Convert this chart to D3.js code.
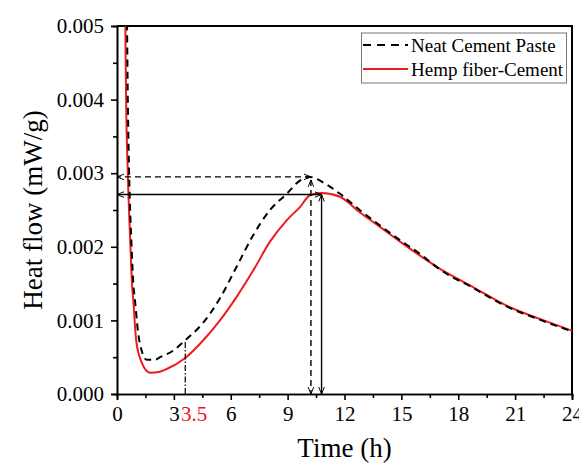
<!DOCTYPE html>
<html>
<head>
<meta charset="utf-8">
<script src="https://cdn.jsdelivr.net/npm/d3@7"></script>
<style>
  body { margin: 0; background: #fff; }
  svg { display: block; }
</style>
</head>
<body>
<div id="main"></div>
<script>
// Neat cement paste (dashed black)
var timeNeat = [0.45, 0.53, 0.57, 0.64, 0.77, 0.86, 0.95, 1.12, 1.3, 1.57, 2.0, 2.27, 2.97, 3.6, 4.55, 5.43, 6.31, 7.19, 8.07, 8.95, 9.65, 10.15, 10.97, 11.76, 12.8, 13.87, 14.93, 16.0, 17.04, 18.8, 20.55, 22.3, 24];
var heatNeat = [0.0065, 0.005, 0.004, 0.003, 0.002, 0.0015, 0.00127, 0.00082, 0.00059, 0.000465, 0.000465, 0.0005, 0.00059, 0.00073, 0.00097, 0.0013, 0.00173, 0.00216, 0.0025, 0.00272, 0.0029, 0.00295, 0.00286, 0.00272, 0.0025, 0.00229, 0.00209, 0.0019, 0.00169, 0.00144, 0.00119, 0.00101, 0.00085];
// Hemp fiber-cement (red)
var timeHemp = [0.38, 0.44, 0.48, 0.57, 0.71, 0.79, 0.86, 1.01, 1.3, 1.74, 2.2, 2.62, 3.6, 4.55, 5.43, 6.31, 7.19, 8.07, 8.95, 9.65, 10.18, 10.8, 11.76, 12.8, 13.87, 14.93, 15.98, 17.04, 18.8, 20.55, 22.3, 24];
var heatHemp = [0.0062, 0.005, 0.004, 0.003, 0.002, 0.0015, 0.00127, 0.00073, 0.00043, 0.00029, 0.0003, 0.00034, 0.00049, 0.00073, 0.001, 0.00132, 0.00168, 0.00207, 0.00236, 0.00254, 0.0027, 0.00273, 0.00268, 0.00247, 0.00227, 0.00207, 0.00188, 0.0017, 0.00145, 0.0012, 0.00102, 0.00086];

var seriesNames = ["Neat Cement Paste", "Hemp fiber-Cement"];
var xTicks = [0, 3, 6, 9, 12, 15, 18, 21, 24];
var yTicks = [0, 0.001, 0.002, 0.003, 0.004, 0.005];
// peaks [time, heat] and end of induction period
var neatPeak = [10.23, 0.00295];
var hempPeak = [10.79, 0.00271];
var inductionTime = 3.6;
var inductionLabel = "3.5";
var inductionHeat = 0.00073;

var width = 579, height = 470;
var margin = {left: 117, right: 7, top: 26, bottom: 76};
var serif = 'Liberation Serif, Times New Roman, serif';

var svg = d3.select('#main')
    .append('svg')
    .attr('width', width)
    .attr('height', height);

var x = d3.scaleLinear().domain([0, 24]).range([margin.left, width - margin.right]);
var y = d3.scaleLinear().domain([0, 0.005]).range([height - margin.bottom, margin.top]);

var defs = svg.append('defs');
defs.append('clipPath').attr('id', 'plot')
    .append('rect')
    .attr('x', x(0)).attr('y', y(0.005))
    .attr('width', x(24) - x(0)).attr('height', y(0) - y(0.005));

// open chevron arrowhead
defs.append('marker')
    .attr('id', 'arrow')
    .attr('viewBox', [0, 0, 10, 10])
    .attr('refX', 10)
    .attr('refY', 5)
    .attr('markerWidth', 7)
    .attr('markerHeight', 7)
    .attr('markerUnits', 'userSpaceOnUse')
    .attr('orient', 'auto-start-reverse')
    .append('path')
    .attr('d', 'M0,1L10,5L0,9')
    .attr('fill', 'none')
    .attr('stroke', 'black')
    .attr('stroke-width', 1.4);

// frame (top and right)
svg.append('path')
    .attr('d', d3.line()([[x(0), y(0.005)], [x(24), y(0.005)], [x(24), y(0)]]))
    .attr('fill', 'none')
    .attr('stroke', 'black')
    .attr('stroke-width', 2);

// axes
var xAxis = svg.append('g')
    .attr('transform', 'translate(0,' + y(0) + ')')
    .call(d3.axisBottom(x).tickValues(xTicks).tickSize(6).tickPadding(6).tickFormat(d3.format('d')));
svg.append('g')
    .attr('transform', 'translate(0,' + y(0) + ')')
    .call(d3.axisBottom(x).tickValues(d3.range(1.5, 24, 3)).tickSize(4).tickFormat(''));
var yAxis = svg.append('g')
    .attr('transform', 'translate(' + x(0) + ',0)')
    .call(d3.axisLeft(y).tickValues(yTicks).tickSize(6).tickPadding(7).tickFormat(d3.format('.3f')));
svg.append('g')
    .attr('transform', 'translate(' + x(0) + ',0)')
    .call(d3.axisLeft(y).tickValues(d3.range(0.0005, 0.005, 0.001)).tickSize(4).tickFormat(''));

svg.selectAll('.domain, .tick line')
    .attr('stroke', 'black')
    .attr('stroke-width', 1.6);
xAxis.selectAll('text').attr('fill', 'black').style('font-size', '21px');
yAxis.selectAll('text').attr('fill', 'black').style('font-size', '21px');

// induction marker label next to "3"
svg.append('text')
    .attr('x', x(3) + 7)
    .attr('y', y(0) + 12)
    .attr('dy', '0.71em')
    .style('font-size', '21px')
    .attr('fill', '#e8161b')
    .text(inductionLabel);

// axis titles
svg.append('text')
    .attr('x', (x(0) + x(24)) / 2)
    .attr('y', 457)
    .attr('text-anchor', 'middle')
    .style('font-size', '27px')
    .text('Time (h)');
svg.append('text')
    .attr('transform', 'translate(42,' + y(0.0025) + ') rotate(-90)')
    .attr('text-anchor', 'middle')
    .style('font-size', '27px')
    .text('Heat flow (mW/g)');

// curves
var line = d3.line()
    .x(function(d) { return x(d[0]); })
    .y(function(d) { return y(d[1]); })
    .curve(d3.curveMonotoneX);

var plot = svg.append('g').attr('clip-path', 'url(#plot)');
plot.append('path')
    .attr('d', line(d3.zip(timeHemp, heatHemp)))
    .attr('fill', 'none')
    .attr('stroke', '#ee1c1c')
    .attr('stroke-width', 2);
plot.append('path')
    .attr('d', line(d3.zip(timeNeat, heatNeat)))
    .attr('fill', 'none')
    .attr('stroke', 'black')
    .attr('stroke-width', 2)
    .attr('stroke-dasharray', '7,5');

// peak guide arrows
var guides = [
    {p: [[x(neatPeak[0]), y(neatPeak[1])], [x(0), y(neatPeak[1])]], dash: '6,4'},
    {p: [[x(neatPeak[0]), y(neatPeak[1]) + 3], [x(neatPeak[0]), y(0)]], dash: '6,4'},
    {p: [[x(hempPeak[0]), y(hempPeak[1])], [x(0), y(hempPeak[1])]], dash: null},
    {p: [[x(hempPeak[0]), y(hempPeak[1])], [x(hempPeak[0]), y(0)]], dash: null}
];
guides.forEach(function(g) {
    svg.append('path')
        .attr('d', d3.line()(g.p))
        .attr('fill', 'none')
        .attr('stroke', 'black')
        .attr('stroke-width', 1.4)
        .attr('stroke-dasharray', g.dash)
        .attr('marker-start', 'url(#arrow)')
        .attr('marker-end', 'url(#arrow)');
});

// induction period dash-dot line
svg.append('path')
    .attr('d', d3.line()([[x(inductionTime), y(0)], [x(inductionTime), y(inductionHeat)]]))
    .attr('stroke', 'black')
    .attr('stroke-width', 1.2)
    .attr('stroke-dasharray', '6,2,1.5,2');

// legend
var legend = svg.append('g');
legend.append('rect')
    .attr('x', 361.5).attr('y', 33)
    .attr('width', 205).attr('height', 50)
    .attr('fill', 'white')
    .attr('stroke', '#777')
    .attr('stroke-width', 1);
seriesNames.forEach(function(name, i) {
    var ly = 45 + i * 24;
    legend.append('path')
        .attr('d', d3.line()([[363, ly], [408, ly]]))
        .attr('stroke', i === 0 ? 'black' : '#ee1c1c')
        .attr('stroke-width', 2)
        .attr('stroke-dasharray', i === 0 ? '8,6' : null);
    legend.append('text')
        .attr('x', 411)
        .attr('y', ly + 7)
        .style('font-size', '19px')
        .text(name);
});

// one serif face for every label, set inline so the axis default cannot win
svg.selectAll('text').style('font-family', serif);
</script>
</body>
</html>
